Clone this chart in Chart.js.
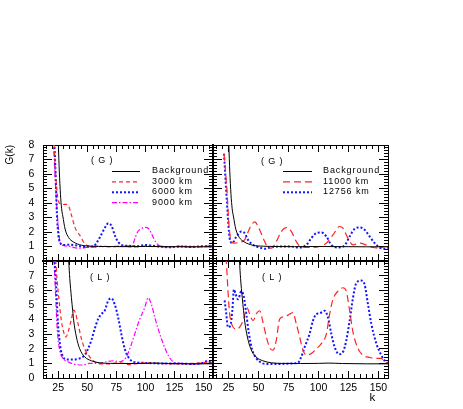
<!DOCTYPE html>
<html><head><meta charset="utf-8">
<script src="https://cdn.jsdelivr.net/npm/chart.js@4.4.1/dist/chart.umd.min.js"></script>
<style>
html,body{margin:0;padding:0;background:#fff;}
#wrap{position:relative;width:463px;height:409px;overflow:hidden;background:#fff;}
canvas{position:absolute;left:0;top:0;}
</style></head><body>
<div id="wrap">
<canvas id="cTL" width="463" height="409"></canvas>
<canvas id="cTR" width="463" height="409"></canvas>
<canvas id="cBL" width="463" height="409"></canvas>
<canvas id="cBR" width="463" height="409"></canvas>
</div>
<script>
// ---------- axes ----------
const kRange = [12, 158];
const yRange = [0, 8];
const xTickValues = [25, 50, 75, 100, 125, 150];
const yTickValuesTop = [0, 1, 2, 3, 4, 5, 6, 7, 8];
const yTickValuesBottom = [0, 1, 2, 3, 4, 5, 6, 7];
const panelTagG = '( G )';
const panelTagL = '( L )';

// ---------- series (G panels) ----------
const bgG_k = [24.6, 25.2, 26, 27, 28, 29, 31, 34, 38, 45, 54, 65, 80, 100, 120, 140, 158];
const bgG_v = [9.5, 8.0, 6.2, 4.6, 3.6, 3.1, 2.2, 1.62, 1.32, 1.09, 1.02, 1.0, 0.99, 1.0, 0.99, 0.98, 0.98];

const g3000_k = [20.5, 21.5, 23.2, 24.3, 26, 28, 30, 32, 33.7, 36.7, 39.5, 43.8, 48.1, 52.4, 56, 62, 70, 80, 90, 100, 110, 120, 130, 140, 150, 155, 158];
const g3000_v = [9, 8, 5.6, 4.6, 4.0, 3.95, 3.9, 3.9, 3.84, 3.1, 2.3, 1.75, 1.18, 1.0, 0.95, 1.0, 0.98, 1.02, 0.97, 1.03, 1.0, 0.97, 1.02, 1.0, 0.98, 1.05, 1.0];

const g6000_k = [20.5, 21.8, 23, 23.9, 25.3, 27.3, 29.6, 35, 40, 45, 50, 55.1, 58, 60.9, 65.2, 68.1, 71, 73.8, 76.7, 81, 86, 92, 100, 106, 112, 120, 130, 140, 150, 158];
const g6000_v = [9.5, 8, 5.6, 3.3, 1.75, 1.18, 1.1, 1.12, 1.08, 1.0, 0.98, 1.0, 1.25, 1.64, 2.3, 2.6, 2.4, 1.75, 1.3, 1.07, 1.05, 1.02, 1.1, 1.05, 1.0, 0.95, 1.0, 0.97, 1.02, 1.0];

const g9000_k = [20.5, 22.4, 23.8, 25.3, 26.7, 29.6, 35, 40, 45, 50, 55, 60, 70, 80, 88.8, 90.3, 93.1, 96, 100.3, 103.1, 106, 108.9, 113.2, 120, 130, 140, 150, 155, 158];
const g9000_v = [9, 5.8, 3.8, 2.2, 1.3, 1.07, 1.0, 0.9, 0.88, 0.95, 1.0, 1.02, 1.0, 1.03, 1.05, 1.4, 1.98, 2.2, 2.32, 2.2, 1.75, 1.3, 1.02, 0.98, 1.0, 0.97, 1.02, 1.08, 1.05];

const g11000_k = [21.2, 23.7, 25.3, 27.3, 30, 34.2, 38.4, 42.6, 46.8, 50.9, 55.1, 57.9, 60.7, 64.8, 69, 73.2, 77.4, 81.5, 84.9, 92.6, 101, 106.6, 112.1, 117.7, 120.5, 124.6, 128.8, 134.4, 139.9, 145.5, 151, 155.2, 158];
const g11000_v = [7.4, 4.8, 2.5, 1.34, 1.23, 1.3, 1.46, 2.26, 2.7, 2.15, 1.34, 0.93, 0.89, 1.34, 2.03, 2.3, 2.03, 1.34, 1.0, 0.93, 1.0, 1.23, 1.8, 2.38, 2.26, 1.57, 1.11, 1.23, 1.1, 0.93, 0.89, 1.0, 1.0];

const g12756_k = [21.2, 23.5, 25.9, 28.1, 31.5, 35.6, 38.4, 41.2, 45.4, 50.9, 55.1, 59.3, 67.6, 76, 84.3, 89.9, 94, 98.2, 102.4, 106.6, 110.7, 116.3, 121.8, 126, 130.2, 134.4, 138.5, 142.7, 146.9, 151, 155.2, 158];
const g12756_v = [7.4, 4.2, 1.57, 1.23, 1.69, 2.03, 1.92, 1.46, 1.11, 0.93, 0.84, 0.93, 1.0, 1.0, 0.93, 1.11, 1.57, 1.92, 1.96, 1.69, 1.11, 0.93, 1.07, 1.69, 2.22, 2.31, 2.15, 1.69, 1.23, 0.93, 0.84, 0.9];

// ---------- series (L panels) ----------
const bgL_k = [33.2, 34.1, 35, 36.4, 37.5, 38.4, 40.7, 43.5, 47.8, 53.5, 60.7, 70, 85, 100, 108, 120, 140, 158];
const bgL_v = [9, 7.97, 6.8, 5.5, 4.6, 3.9, 2.8, 2.0, 1.45, 1.18, 1.04, 1.0, 0.99, 1.0, 1.02, 0.99, 0.97, 0.97];

const l3000_k = [21.5, 22.9, 24, 25.8, 27.8, 29.8, 31.5, 33.5, 36.4, 38.4, 39.8, 42.1, 45, 47.8, 52.1, 56.4, 60.7, 68, 77.9, 86.5, 98, 110, 125, 140, 150, 155, 158];
const l3000_v = [9, 8, 6.8, 5.3, 3.9, 3.13, 2.8, 3.13, 4.03, 4.64, 4.48, 3.7, 2.69, 2.0, 1.45, 1.11, 0.96, 0.96, 1.04, 0.91, 1.04, 1.0, 0.96, 1.0, 1.05, 1.11, 0.95];

const l6000_k = [21, 22, 23.5, 24.9, 26.9, 29.2, 32, 37.8, 43.5, 47.8, 50.7, 53.5, 56.4, 59.3, 62.1, 65, 67.9, 70.7, 73.6, 76.5, 79.3, 82.2, 85.1, 89.4, 98, 110, 125, 140, 148, 152.4, 156.7, 158];
const l6000_v = [9, 8, 5.9, 3.7, 2.12, 1.45, 1.27, 1.27, 1.34, 1.56, 2.0, 2.57, 3.36, 4.03, 4.37, 4.6, 5.27, 5.45, 5.04, 4.15, 3.0, 2.0, 1.45, 1.11, 1.04, 1.0, 1.0, 0.96, 1.0, 1.13, 1.04, 1.0];

const l9000_k = [20.5, 21.5, 22.9, 24.3, 26.3, 29.2, 33.5, 37.8, 46.4, 52.1, 59.3, 66.4, 72.2, 77.9, 83.6, 87.1, 90.8, 95.1, 99.4, 102.3, 105.1, 108, 110.9, 115.2, 119.5, 123.7, 130, 140, 148, 152.4, 158];
const l9000_v = [9.5, 8, 5.5, 3.25, 1.9, 1.34, 1.11, 0.96, 0.89, 1.0, 1.0, 1.11, 1.18, 1.11, 1.45, 2.12, 3.02, 4.03, 4.82, 5.49, 5.04, 4.15, 3.36, 2.35, 1.56, 1.11, 1.0, 0.96, 1.0, 1.18, 1.0];

const l11000_k = [22, 23.1, 24.5, 25.9, 28.1, 30.9, 34.2, 37.6, 40.4, 42.6, 45.4, 48.2, 50.9, 53.7, 56.5, 59.8, 62.1, 64.8, 67.6, 71.8, 76, 78.7, 81.5, 84.3, 87.1, 89.9, 94, 98.2, 102.4, 106.6, 109.3, 112.1, 116.3, 120.5, 123.2, 126, 128.8, 133, 137.1, 142.7, 148.3, 152.4, 155.2, 158];
const l11000_v = [9, 8, 5.94, 4.37, 3.58, 3.36, 3.47, 4.03, 4.8, 4.37, 3.92, 4.4, 4.6, 3.81, 2.8, 2.0, 1.9, 2.57, 4.03, 4.19, 4.37, 4.48, 3.7, 2.8, 1.9, 1.56, 1.67, 2.0, 2.35, 3.02, 4.37, 5.38, 5.94, 6.17, 5.94, 4.6, 3.13, 2.0, 1.56, 1.4, 1.34, 1.34, 1.11, 1.0];

const l12756_k = [21.7, 23.1, 24.5, 26.5, 28.1, 29.5, 30.9, 32.9, 35.6, 37.6, 39.8, 42, 44.8, 48.2, 52.3, 56.5, 67.6, 78.7, 82.9, 85.7, 88.5, 92.6, 95.4, 98.2, 101, 105.2, 107.9, 110.7, 113.5, 117.1, 120.5, 123.2, 126, 128.8, 131.6, 135.7, 138.5, 141.3, 144.1, 148.3, 152.4, 155.2, 158];
const l12756_v = [5.3, 4.37, 3.47, 3.58, 4.6, 6.06, 5.72, 5.38, 5.94, 5.6, 4.37, 3.02, 1.9, 1.34, 1.04, 0.96, 0.96, 1.0, 1.04, 1.45, 2.12, 3.02, 3.92, 4.37, 4.42, 4.6, 4.15, 3.02, 2.12, 1.63, 1.79, 2.57, 3.92, 5.49, 6.5, 6.66, 6.39, 5.04, 3.7, 2.35, 1.56, 1.18, 1.0];

// ---------- styling ----------
Chart.defaults.font.family = "'Liberation Sans', Arial, sans-serif";
const RED = 'rgb(255,35,35)', BLUE = 'rgb(20,20,255)', MAG = 'rgb(255,0,255)';
const STY = {
  bg:    {label: 'Background', borderColor: '#000', borderWidth: 1, borderDash: []},
  r3:    {label: '3000 km',  borderColor: RED, borderWidth: 1.2, borderDash: [4, 3]},
  b6:    {label: '6000 km',  borderColor: BLUE, borderWidth: 2, borderDash: [2, 2]},
  m9:    {label: '9000 km',  borderColor: MAG, borderWidth: 1.2, borderDash: [5, 2, 1.5, 2]},
  r11:   {label: '11000 km', borderColor: RED, borderWidth: 1.2, borderDash: [7, 4]},
  b12:   {label: '12756 km', borderColor: BLUE, borderWidth: 2, borderDash: [2, 2]}
};
function ds(style, ks, vs) {
  return Object.assign({}, style, {
    data: ks.map((k, i) => ({x: k, y: vs[i]})),
    pointRadius: 0, fill: false, cubicInterpolationMode: 'monotone', borderCapStyle: 'butt'
  });
}

const xMinor = []; for (let v = 15; v <= 155; v += 5) xMinor.push(v);
const yMinor = []; for (let i = 1; i < 40; i++) yMinor.push(Math.round(i * 2) / 10);

function tickAxis(axis, position, values, len, weight, o) {
  o = o || {};
  const isX = axis === 'x';
  return {
    type: 'linear', axis: axis, position: position, weight: weight,
    min: isX ? kRange[0] : yRange[0], max: isX ? kRange[1] : yRange[1],
    afterBuildTicks: s => { s.ticks = values.map(v => ({value: v})); },
    afterFit: s => {
      if (isX) s.height = o.size || 0; else s.width = o.size || 0;
      s.paddingLeft = 0; s.paddingRight = 0; s.paddingTop = 0; s.paddingBottom = 0;
    },
    grid: {display: true, drawOnChartArea: false, drawTicks: true, tickLength: -len,
           color: '#000', tickColor: '#000', lineWidth: 1, tickWidth: 1},
    border: {display: true, color: '#000', width: o.borderW || 1},
    ticks: {display: !!o.labels, autoSkip: false, maxRotation: 0, minRotation: 0, padding: o.pad || 0,
            color: '#000', font: {size: 10.5},
            callback: (v) => (o.labels && o.labels.includes(v)) ? String(v) : ''},
    title: o.title || {display: false}
  };
}

const legendPlugin = {
  id: 'panelLegend',
  afterDatasetsDraw(chart, args, opts) {
    const ctx = chart.ctx;
    ctx.save();
    ctx.font = "9px 'Liberation Sans', Arial, sans-serif";
    if ('letterSpacing' in ctx) ctx.letterSpacing = '0.9px';
    ctx.fillStyle = '#000';
    ctx.textBaseline = 'middle';
    ctx.textAlign = 'left';
    ctx.fillText(opts.tag, opts.tagX, opts.tagY);
    if (opts.rows) {
      chart.data.datasets.forEach((d, i) => {
        const y = opts.rowY + i * opts.rowDy;
        ctx.save();
        ctx.strokeStyle = d.borderColor; ctx.lineWidth = d.borderWidth;
        ctx.setLineDash(d.borderDash || []);
        ctx.beginPath(); ctx.moveTo(opts.lineX0, y + 0.5); ctx.lineTo(opts.lineX1, y + 0.5); ctx.stroke();
        ctx.restore();
        ctx.fillText(d.label, opts.textX, y);
      });
    }
    ctx.restore();
  }
};

function makePanel(id, p) {
  const leftInner = p.col === 1, rightInner = p.col === 0;
  const topInner = p.row === 1, bottomInner = p.row === 0;
  const scales = {
    x:   tickAxis('x', 'bottom', xTickValues, 7, 1, {size: p.row === 1 ? 27.1 : 0, labels: p.row === 1 ? xTickValues : null, pad: 10.7, borderW: bottomInner ? 2 : 1, title: p.kTitle}),
    xm:  tickAxis('x', 'bottom', xMinor, 4, 0, {borderW: bottomInner ? 2 : 1}),
    xt:  tickAxis('x', 'top', xTickValues, 7, 1, {borderW: topInner ? 2 : 1}),
    xtm: tickAxis('x', 'top', xMinor, 4, 0, {borderW: topInner ? 2 : 1}),
    y:   tickAxis('y', 'left', p.row === 0 ? yTickValuesTop : yTickValuesBottom, 9, 1, {size: p.col === 0 ? 43 : 0, labels: p.col === 0 ? (p.row === 0 ? yTickValuesTop : yTickValuesBottom) : null, pad: 17.7, borderW: leftInner ? 2 : 1, title: p.yTitle}),
    ym:  tickAxis('y', 'left', yMinor, 4, 0, {borderW: leftInner ? 2 : 1}),
    yr:  tickAxis('y', 'right', yTickValuesTop, 9, 1, {borderW: rightInner ? 2 : 1}),
    yrm: tickAxis('y', 'right', yMinor, 4, 0, {borderW: rightInner ? 2 : 1})
  };
  const area = {
    left: p.col === 0 ? 0 : 213,
    right: p.col === 0 ? 463 - 213 : 463 - 388,
    top: p.row === 0 ? 145 : 261,
    bottom: p.row === 0 ? 409 - 261 : 409 - 378 - 27.1
  };
  return new Chart(document.getElementById(id), {
    type: 'line',
    data: {datasets: p.datasets},
    options: {
      responsive: false, animation: false, devicePixelRatio: 1,
      layout: {padding: area, autoPadding: false},
      scales: scales,
      plugins: {legend: {display: false}, tooltip: {enabled: false}, panelLegend: p.legend},
      events: []
    },
    plugins: [legendPlugin]
  });
}

makePanel('cTL', {row: 0, col: 0,
  yTitle: {display: true, text: 'G(k)', align: 'end', color: '#000', font: {size: 10}, padding: {top: 4, bottom: 0}},
  datasets: [ds(STY.bg, bgG_k, bgG_v), ds(STY.r3, g3000_k, g3000_v), ds(STY.b6, g6000_k, g6000_v), ds(STY.m9, g9000_k, g9000_v)],
  legend: {tag: panelTagG, tagX: 91, tagY: 161, rows: true, rowY: 171, rowDy: 10.4, lineX0: 112, lineX1: 140, textX: 152}
});
makePanel('cTR', {row: 0, col: 1,
  datasets: [ds(STY.bg, bgG_k, bgG_v), ds(STY.r11, g11000_k, g11000_v), ds(STY.b12, g12756_k, g12756_v)],
  legend: {tag: panelTagG, tagX: 261, tagY: 161.5, rows: true, rowY: 171, rowDy: 10.4, lineX0: 283, lineX1: 312, textX: 323}
});
makePanel('cBL', {row: 1, col: 0,
  datasets: [ds(STY.bg, bgL_k, bgL_v), ds(STY.r3, l3000_k, l3000_v), ds(STY.b6, l6000_k, l6000_v), ds(STY.m9, l9000_k, l9000_v)],
  legend: {tag: panelTagL, tagX: 90, tagY: 278, rows: false}
});
makePanel('cBR', {row: 1, col: 1,
  kTitle: {display: true, text: 'k\u00a0\u00a0\u00a0\u00a0', align: 'end', color: '#000', font: {size: 11.5}, padding: {top: 0, bottom: 0}},
  datasets: [ds(STY.bg, bgL_k, bgL_v), ds(STY.r11, l11000_k, l11000_v), ds(STY.b12, l12756_k, l12756_v)],
  legend: {tag: panelTagL, tagX: 262, tagY: 277.5, rows: false}
});
</script>
</body></html>
